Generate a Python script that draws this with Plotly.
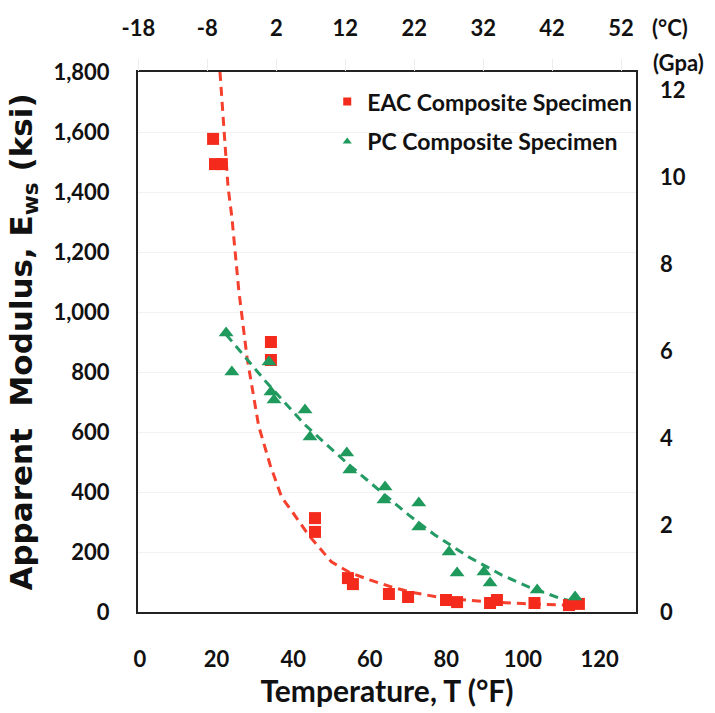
import plotly.graph_objects as go

# ---- data ----
eac_temp_f = [19.1, 19.6, 21.4, 34.2, 34.2, 45.7, 45.7, 54.3, 55.6, 65, 70, 79.9, 82.8, 91.4, 93.2, 103, 112, 114.6]
eac_modulus = [1577, 1493, 1493, 900, 840, 313, 267, 113, 93, 60, 50, 40, 33, 30, 40, 30, 23, 27]

pc_temp_f = [22.5, 24, 33.7, 34.2, 35, 43.1, 44.4, 54, 54.8, 64, 63.7, 72.8, 72.8, 80.7, 82.8, 89.8, 91.4, 103.7, 113.6]
pc_modulus = [930, 800, 833, 733, 707, 673, 583, 530, 473, 417, 373, 363, 283, 200, 130, 133, 97, 73, 50]

eac_trend_x = [20.9, 21.5, 22, 23, 24, 25.8, 28, 31, 34, 37, 40, 44, 50, 55, 60, 66, 72, 80, 90, 100, 113]
eac_trend_y = [1800, 1692, 1593, 1417, 1317, 1073, 845, 620, 490, 383, 330, 257, 167, 130, 107, 82, 63, 45, 35, 28, 22]

pc_trend_x = [22.5, 28, 33.2, 37.9, 43, 48.8, 54, 59.3, 65, 70.2, 77, 85.9, 94.5, 101.6, 109.4, 113]
pc_trend_y = [925, 840, 763, 697, 625, 557, 497, 440, 380, 323, 257, 183, 123, 83, 47, 35]

x_ticks_f = [0, 20, 40, 60, 80, 100, 120]
y_ticks_ksi = [0, 200, 400, 600, 800, 1000, 1200, 1400, 1600, 1800]
y_ticktext_ksi = ["0", "200", "400", "600", "800", "1,000", "1,200", "1,400", "1,600", "1,800"]
top_ticks_c = [-18, -8, 2, 12, 22, 32, 42, 52]
top_ticktext_c = ["-18", "-8", "2", "12", "22", "32", "42", "52"]
right_ticks_gpa = [0, 2, 4, 6, 8, 10, 12]

X_RANGE_F = [-0.5, 129.5]
Y_MAX_KSI = 1800
KSI_PER_GPA = 145.038

RED = "#f42a1c"
GREEN = "#1f9a5c"
FONT = "Lato"
INK = "#111111"

fig = go.Figure()

fig.add_trace(go.Scatter(x=eac_trend_x, y=eac_trend_y, mode="lines",
                         line=dict(color="#f5402e", width=3, dash="9px,6px"),
                         showlegend=False, hoverinfo="skip"))
fig.add_trace(go.Scatter(x=pc_trend_x, y=pc_trend_y, mode="lines",
                         line=dict(color="#249a64", width=3, dash="9px,6px"),
                         showlegend=False, hoverinfo="skip"))
fig.add_trace(go.Scatter(x=eac_temp_f, y=eac_modulus, mode="markers",
                         marker=dict(symbol="square", size=12, color=RED),
                         showlegend=False))
fig.add_trace(go.Scatter(x=pc_temp_f, y=pc_modulus, mode="markers",
                         marker=dict(symbol="triangle-up", size=13, color=GREEN),
                         showlegend=False))
# legend entries
fig.add_trace(go.Scatter(x=[None], y=[None], mode="markers", name="EAC Composite Specimen",
                         marker=dict(symbol="square", size=8, color=RED), legendgroup="a"))
fig.add_trace(go.Scatter(x=[None], y=[None], mode="markers", name="PC Composite Specimen",
                         marker=dict(symbol="triangle-up", size=8, color=GREEN), legendgroup="b"))
# secondary axes carrier
fig.add_trace(go.Scatter(x=[None], y=[None], xaxis="x2", yaxis="y2", showlegend=False, hoverinfo="skip"))

tickfont = dict(family=FONT, size=22, color=INK, weight="bold")

fig.update_layout(
    width=715, height=713,
    margin=dict(l=138, r=79, t=72, b=101),
    paper_bgcolor="white", plot_bgcolor="white",
    font=dict(family=FONT, color=INK),
    showlegend=True,
    legend=dict(x=0.38, y=0.985, xanchor="left", yanchor="top",
                font=dict(family=FONT, size=23, color=INK, weight="bold"),
                bgcolor="rgba(0,0,0,0)", tracegroupgap=7),
    xaxis=dict(range=X_RANGE_F, tickvals=x_ticks_f, tickfont=tickfont, automargin=False,
               showline=True, linecolor="#222222", linewidth=2, mirror=True,
               showgrid=False, zeroline=False, ticks="", ticklabelstandoff=27,
               title=dict(text="Temperature, T (°F)",
                          font=dict(family=FONT, size=30, color=INK, weight="bold"), standoff=5)),
    yaxis=dict(range=[0, Y_MAX_KSI], tickvals=y_ticks_ksi, ticktext=y_ticktext_ksi, automargin=False,
               tickfont=tickfont, showline=True, linecolor="#222222", linewidth=2, mirror=True,
               showgrid=True, gridcolor="#f2f2f2", gridwidth=1, zeroline=False, ticks="",
               ticklabelstandoff=22,
               title=dict(text="<b>Apparent  Modulus, E<sub>ws</sub> (ksi)</b>",
                          font=dict(family="DejaVu Sans", size=31, color=INK), standoff=12)),
    xaxis2=dict(overlaying="x", side="top", automargin=False,
                range=[(X_RANGE_F[0] - 32) / 1.8, (X_RANGE_F[1] - 32) / 1.8],
                tickvals=top_ticks_c, ticktext=top_ticktext_c, tickfont=tickfont,
                showgrid=False, zeroline=False,
                showline=False, ticks="outside", ticklen=12, tickcolor="#ececec",
                ticklabelstandoff=14),
    yaxis2=dict(overlaying="y", side="right", anchor="x", automargin=False,
                range=[0, Y_MAX_KSI / KSI_PER_GPA], tickvals=right_ticks_gpa,
                tickfont=tickfont, showgrid=False, zeroline=False, showline=False,
                ticks="", ticklabelstandoff=23),
)

fig.add_annotation(text="(°C)", xref="paper", yref="paper", x=1.068, y=1.0833,
                   xanchor="center", yanchor="middle",
                   showarrow=False, font=dict(family=FONT, size=22, color=INK, weight="bold"))
fig.add_annotation(text="(Gpa)", xref="paper", yref="paper", x=1.086, y=1.0185,
                   xanchor="center", yanchor="middle",
                   showarrow=False, font=dict(family=FONT, size=22, color=INK, weight="bold"))

fig.write_html("out.html", config={"displayModeBar": False},
               post_script="document.body.style.margin='0';document.body.style.overflow='hidden';")
